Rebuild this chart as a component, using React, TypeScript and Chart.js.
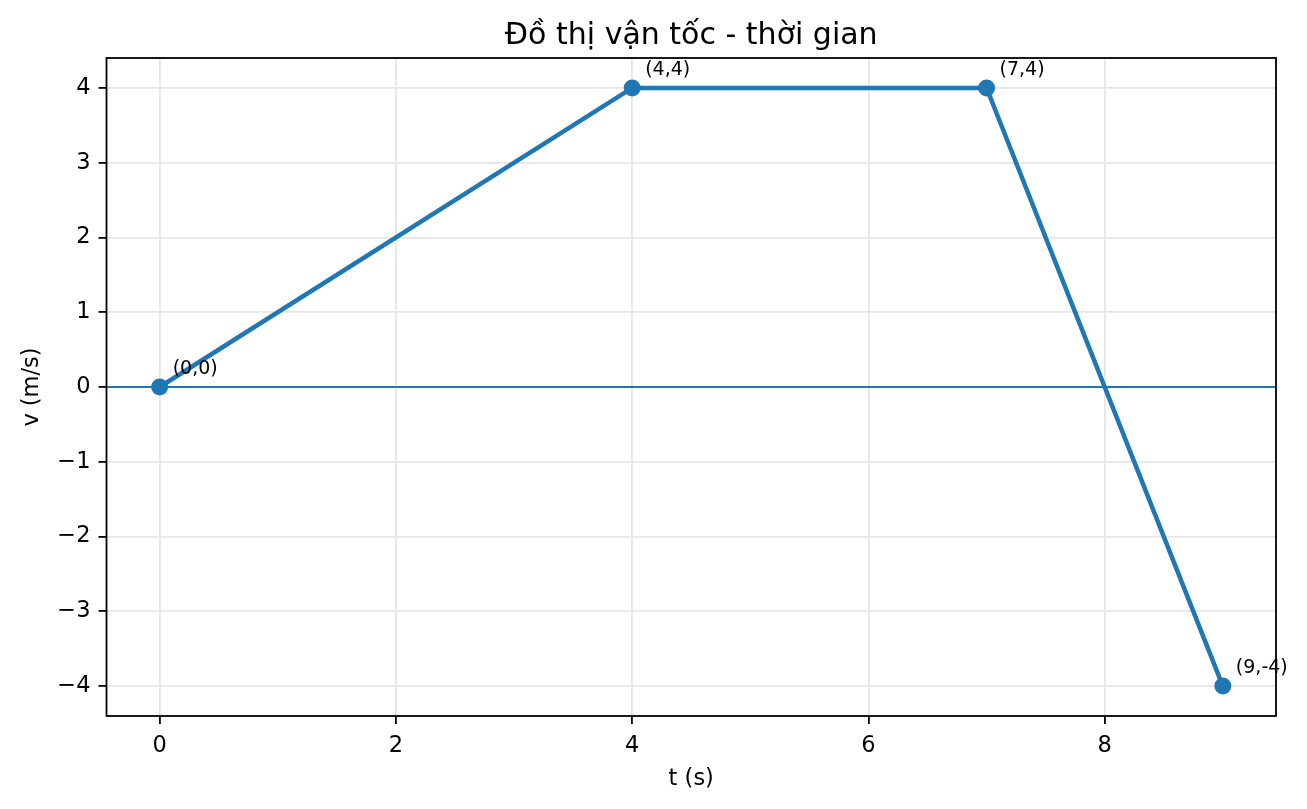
import { useEffect, useRef } from "react";
import { Chart, registerables } from "chart.js";

Chart.register(...registerables);

// thời gian (s) và vận tốc (m/s) tại các điểm mốc
const times = [0, 4, 7, 9];
const speeds = [0, 4, 4, -4];
const pointLabels = ["(0,0)", "(4,4)", "(7,4)", "(9,-4)"];

const xTicks = [0, 2, 4, 6, 8];
const yTicks = [-4, -3, -2, -1, 0, 1, 2, 3, 4];

const BLUE = "#1f77b4";
const FONT = "'DejaVu Sans', sans-serif";

const fmt = (v: number) => (v < 0 ? "\u2212" + Math.abs(v) : String(v));

// extra drawing: frame, axhline at 0, title, axis titles, point labels
const decorPlugin = {
  id: "decor",
  beforeDatasetsDraw(chart: any) {
    const { ctx, chartArea: a, scales } = chart;
    const y0 = scales.y.getPixelForValue(0);
    ctx.save();
    ctx.strokeStyle = BLUE;
    ctx.lineWidth = 2.2;
    ctx.beginPath();
    ctx.moveTo(a.left, y0);
    ctx.lineTo(a.right, y0);
    ctx.stroke();
    ctx.restore();
  },
  afterDraw(chart: any) {
    const { ctx, chartArea: a, scales } = chart;
    ctx.save();
    ctx.strokeStyle = "#000";
    ctx.lineWidth = 1.8;
    ctx.strokeRect(a.left, a.top, a.right - a.left, a.bottom - a.top);

    ctx.fillStyle = "#000";
    ctx.textAlign = "center";
    ctx.textBaseline = "alphabetic";
    ctx.font = `30px ${FONT}`;
    ctx.fillText("Đồ thị vận tốc - thời gian", (a.left + a.right) / 2, a.top - 14);

    ctx.font = `22.5px ${FONT}`;
    ctx.textBaseline = "middle";
    ctx.fillText("t (s)", (a.left + a.right) / 2, 779);
    ctx.save();
    ctx.translate(32, (a.top + a.bottom) / 2);
    ctx.rotate(-Math.PI / 2);
    ctx.fillText("v (m/s)", 0, 0);
    ctx.restore();

    ctx.font = `19px ${FONT}`;
    ctx.textAlign = "left";
    ctx.textBaseline = "alphabetic";
    times.forEach((t, i) => {
      const px = scales.x.getPixelForValue(t);
      const py = scales.y.getPixelForValue(speeds[i]);
      ctx.fillText(pointLabels[i], px + 13, py - 13);
    });
    ctx.restore();
  },
};

const VelocityChart = () => {
  const canvasRef = useRef<HTMLCanvasElement | null>(null);

  useEffect(() => {
    if (!canvasRef.current) return;
    const chart = new Chart(canvasRef.current, {
      type: "scatter",
      data: {
        datasets: [
          {
            data: times.map((t, i) => ({ x: t, y: speeds[i] })),
            showLine: true,
            borderColor: BLUE,
            backgroundColor: BLUE,
            borderWidth: 4.5,
            pointRadius: 8.5,
            pointHoverRadius: 8.5,
            pointBorderWidth: 0,
            pointBackgroundColor: BLUE,
          },
        ],
      },
      options: {
        animation: false,
        responsive: true,
        maintainAspectRatio: false,
        layout: { padding: { top: 58, right: 31, left: 0, bottom: 0 } },
        plugins: {
          legend: { display: false },
          title: { display: false },
          tooltip: { enabled: false },
        },
        scales: {
          x: {
            type: "linear",
            min: -0.45,
            max: 9.45,
            afterFit: (s: any) => {
              s.height = 93;
            },
            afterBuildTicks: (s: any) => {
              s.ticks = xTicks.map((v) => ({ value: v }));
            },
            ticks: {
              callback: (v: any) => fmt(Number(v)),
              font: { family: FONT, size: 22.5 },
              color: "#000",
              padding: 9,
              maxRotation: 0,
            },
            grid: {
              color: "#e6e6e6",
              lineWidth: 1.8,
              tickColor: "#000",
              tickLength: 8,
              tickWidth: 1.8,
            },
            border: { display: false },
          },
          y: {
            type: "linear",
            min: -4.4,
            max: 4.4,
            afterFit: (s: any) => {
              s.width = 106.5;
            },
            afterBuildTicks: (s: any) => {
              s.ticks = yTicks.map((v) => ({ value: v }));
            },
            ticks: {
              callback: (v: any) => fmt(Number(v)),
              font: { family: FONT, size: 22.5 },
              color: "#000",
              padding: 8,
            },
            grid: {
              color: "#e6e6e6",
              lineWidth: 1.8,
              tickColor: "#000",
              tickLength: 8,
              tickWidth: 1.8,
            },
            border: { display: false },
          },
        },
      },
      plugins: [decorPlugin],
    });
    return () => chart.destroy();
  }, []);

  return (
    <div style={{ position: "fixed", left: 0, top: 0, width: 1307, height: 809, background: "#fff" }}>
      <canvas ref={canvasRef}></canvas>
    </div>
  );
};

export default function App() {
  return <VelocityChart />;
}
